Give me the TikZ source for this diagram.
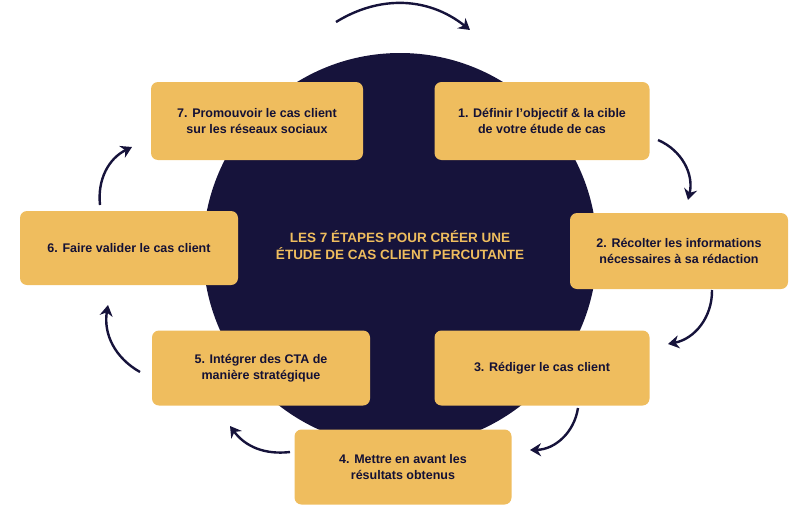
\documentclass[tikz,border=0pt]{standalone}
\usepackage{fontspec}
\setmainfont{Liberation Sans}
\usetikzlibrary{arrows.meta}
\definecolor{navy}{HTML}{16133B}
\definecolor{gold}{HTML}{EFBD5E}
\begin{document}
\begin{tikzpicture}[x=1pt,y=-1pt,style=thick]
\tikzstyle{every node}=[font=\bfseries\fontsize{12.5}{16}\selectfont]
\tikzstyle{stepbox}=[fill=gold, rounded corners=7pt, align=center, inner sep=0pt, text=navy!90!black]
\tikzstyle{loop}=[navy, line width=2.4pt, -{Stealth[length=11pt,width=13pt]}]

\useasboundingbox (0,0) rectangle (800,514);
\fill[navy] (400,250) circle (197);

\node[stepbox, minimum width=212, minimum height=78] (P7) at (257,121) {7. Promouvoir le cas client\\sur les réseaux sociaux};
\node[stepbox, minimum width=215, minimum height=78] (P1) at (542,121) {1. Définir l'objectif \& la cible\\de votre étude de cas};
\node[stepbox, minimum width=218, minimum height=74] (P6) at (129,248) {6. Faire valider le cas client};
\node[stepbox, minimum width=218, minimum height=76] (P2) at (679,251) {2. Récolter les informations\\nécessaires à sa rédaction};
\node[stepbox, minimum width=218, minimum height=75] (P5) at (261,368) {5. Intégrer des CTA de\\manière stratégique};
\node[stepbox, minimum width=215, minimum height=75] (P3) at (542,368) {3. Rédiger le cas client};
\node[stepbox, minimum width=217, minimum height=75] (P4) at (403,467) {4. Mettre en avant les\\résultats obtenus};
\node[text=gold, align=center, font=\bfseries\fontsize{13.5}{17}\selectfont] (T) at (400,245) {LES 7 ÉTAPES POUR CRÉER UNE\\ÉTUDE DE CAS CLIENT PERCUTANTE};

\coordinate (a0) at (336,22);  \coordinate (b0) at (470,30);
\coordinate (a1) at (658,140); \coordinate (b1) at (688,200);
\coordinate (a2) at (712,290); \coordinate (b2) at (668,344);
\coordinate (a3) at (578,408); \coordinate (b3) at (530,450);
\coordinate (a4) at (290,452); \coordinate (b4) at (230,426);
\coordinate (a5) at (140,372); \coordinate (b5) at (108,305);
\coordinate (a6) at (100,205); \coordinate (b6) at (132,147);

\draw[loop] (a0) to[bend left=35] (b0);
\draw[loop] (a1) to[bend left=40] (b1);
\draw[loop] (a2) to[bend left=40] (b2);
\draw[loop] (a3) to[bend left=40] (b3);
\draw[loop] (a4) to[bend left=30] (b4);
\draw[loop] (a5) to[bend left=35] (b5);
\draw[loop] (a6) to[bend left=35] (b6);
\end{tikzpicture}
\end{document}
